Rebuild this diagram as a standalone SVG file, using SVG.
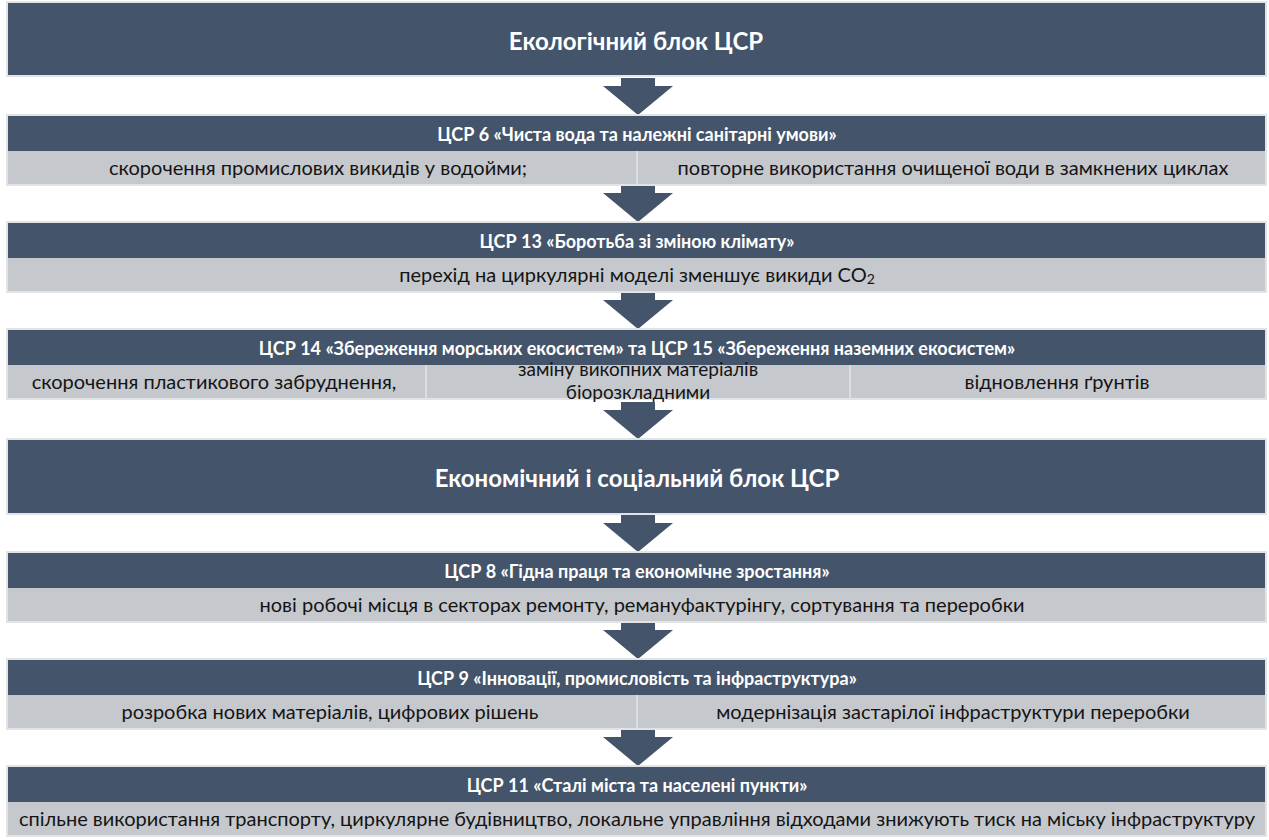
<svg xmlns="http://www.w3.org/2000/svg" width="1269" height="840" viewBox="0 0 1269 840">
  <style>
    .dark { fill: #44546A; }
    .light { fill: #C5C8CC; }
    .halo { fill: #E2E3E5; }
    .div { stroke: #DCDDDF; stroke-width: 2; }
    .arrow { fill: #44546A; }
    text { font-family: Lato, "Noto Sans", "DejaVu Sans", sans-serif; text-anchor: middle; dominant-baseline: central; }
    .title { font-size: 24px; font-weight: bold; fill: #FFFFFF; }
    .hdr { font-size: 18px; font-weight: bold; fill: #FFFFFF; }
    .body { font-size: 20px; fill: #141414; }
    .wrap { font-size: 19px; fill: #141414; }
  </style>
  <defs>
    <path id="arr" d="M-17,-37 H17 V-29 H35 L0,0 L-35,-29 H-17 Z"/>
  </defs>
  <rect width="1269" height="840" fill="#FFFFFF"/>

  <g id="connectors">
    <use href="#arr" class="arrow" x="638" y="115"/>
    <use href="#arr" class="arrow" x="638" y="222"/>
    <use href="#arr" class="arrow" x="638" y="329"/>
    <use href="#arr" class="arrow" x="638" y="439"/>
    <use href="#arr" class="arrow" x="638" y="552"/>
    <use href="#arr" class="arrow" x="638" y="659"/>
    <use href="#arr" class="arrow" x="638" y="766"/>
  </g>

  <g id="block-eco">
    <rect class="halo" x="6" y="1" width="1261" height="76"/>
    <rect class="dark" x="8" y="3" width="1257" height="72"/>
    <text class="title" x="636" y="40">Екологічний блок ЦСР</text>
  </g>

  <g id="sdg6">
    <rect class="halo" x="6" y="114" width="1261" height="72"/>
    <rect class="dark" x="8" y="116" width="1257" height="35"/>
    <rect class="light" x="8" y="151" width="1257" height="33"/>
    <line class="div" x1="637" y1="151" x2="637" y2="184"/>
    <text class="hdr" x="637" y="134">ЦСР 6 «Чиста вода та належні санітарні умови»</text>
    <text class="body" x="318" y="167">скорочення промислових викидів у водойми;</text>
    <text class="body" x="953" y="167">повторне використання очищеної води в замкнених циклах</text>
  </g>

  <g id="sdg13">
    <rect class="halo" x="6" y="221" width="1261" height="72"/>
    <rect class="dark" x="8" y="223" width="1257" height="35"/>
    <rect class="light" x="8" y="258" width="1257" height="33"/>
    <text class="hdr" x="637" y="241">ЦСР 13 «Боротьба зі зміною клімату»</text>
    <text class="body" x="637" y="274">перехід на циркулярні моделі зменшує викиди CO<tspan font-size="14" dy="4">2</tspan></text>
  </g>

  <g id="sdg14-15">
    <rect class="halo" x="6" y="328" width="1261" height="72"/>
    <rect class="dark" x="8" y="330" width="1257" height="35"/>
    <rect class="light" x="8" y="365" width="1257" height="33"/>
    <line class="div" x1="426" y1="365" x2="426" y2="398"/>
    <line class="div" x1="850" y1="365" x2="850" y2="398"/>
    <text class="hdr" x="637" y="348">ЦСР 14 «Збереження морських екосистем» та ЦСР 15 «Збереження наземних екосистем»</text>
    <text class="body" x="214" y="381">скорочення пластикового забруднення,</text>
    <text class="wrap" x="638" y="368">заміну викопних матеріалів</text>
    <text class="wrap" x="638" y="391">біорозкладними</text>
    <text class="body" x="1057" y="381">відновлення ґрунтів</text>
  </g>

  <g id="block-econ">
    <rect class="halo" x="6" y="438" width="1261" height="77"/>
    <rect class="dark" x="8" y="440" width="1257" height="73"/>
    <text class="title" x="637" y="477">Економічний і соціальний блок ЦСР</text>
  </g>

  <g id="sdg8">
    <rect class="halo" x="6" y="551" width="1261" height="72"/>
    <rect class="dark" x="8" y="553" width="1257" height="35"/>
    <rect class="light" x="8" y="588" width="1257" height="33"/>
    <text class="hdr" x="637" y="571">ЦСР 8 «Гідна праця та економічне зростання»</text>
    <text class="body" x="642" y="604">нові робочі місця в секторах ремонту, ремануфактурінгу, сортування та переробки</text>
  </g>

  <g id="sdg9">
    <rect class="halo" x="6" y="658" width="1261" height="72"/>
    <rect class="dark" x="8" y="660" width="1257" height="35"/>
    <rect class="light" x="8" y="695" width="1257" height="33"/>
    <line class="div" x1="637" y1="695" x2="637" y2="728"/>
    <text class="hdr" x="637" y="678">ЦСР 9 «Інновації, промисловість та інфраструктура»</text>
    <text class="body" x="330" y="711">розробка нових матеріалів, цифрових рішень</text>
    <text class="body" x="953" y="711">модернізація застарілої інфраструктури переробки</text>
  </g>

  <g id="sdg11">
    <rect class="halo" x="6" y="765" width="1261" height="72"/>
    <rect class="dark" x="8" y="767" width="1257" height="35"/>
    <rect class="light" x="8" y="802" width="1257" height="33"/>
    <text class="hdr" x="637" y="785">ЦСР 11 «Сталі міста та населені пункти»</text>
    <text class="body" x="637" y="818" textLength="1236" lengthAdjust="spacingAndGlyphs">спільне використання транспорту, циркулярне будівництво, локальне управління відходами знижують тиск на міську інфраструктуру</text>
  </g>
</svg>
